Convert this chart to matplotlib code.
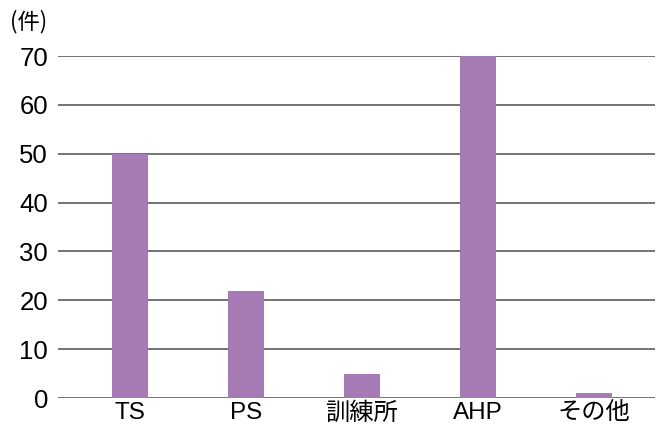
import matplotlib.pyplot as plt
import numpy as np

plt.rcParams['font.family'] = ['Liberation Sans', 'Noto Sans CJK JP', 'DejaVu Sans']

categories = ['TS', 'PS', '訓練所', 'AHP', 'その他']
counts = [50, 22, 5, 70, 1]
yticks = [0, 10, 20, 30, 40, 50, 60, 70]

fig = plt.figure(figsize=(6.57, 4.28), dpi=100)
ax = fig.add_axes([0.088, 0.070, 0.909, 0.799])

x = np.arange(len(categories))
for y in yticks:
    ax.axhline(y, color='#4d4d4d', linewidth=1.1, zorder=1)
ax.bar(x, counts, width=0.31, color='#a67bb5', zorder=2)

ax.set_xlim(-0.62, 4.53)
ax.set_ylim(0, 70)
ax.set_yticks(yticks)
ax.set_xticks(x)
ax.set_xticklabels(categories, fontsize=17.5)
ax.tick_params(axis='y', labelsize=18.5, length=0, pad=7)
ax.tick_params(axis='x', length=0, pad=3)
for s in ax.spines.values():
    s.set_visible(False)

fig.text(0.015, 0.949, '(件)', fontsize=16, family=['Noto Sans CJK JP'], va='center', ha='left')

fig.savefig('out.png', dpi=100)
